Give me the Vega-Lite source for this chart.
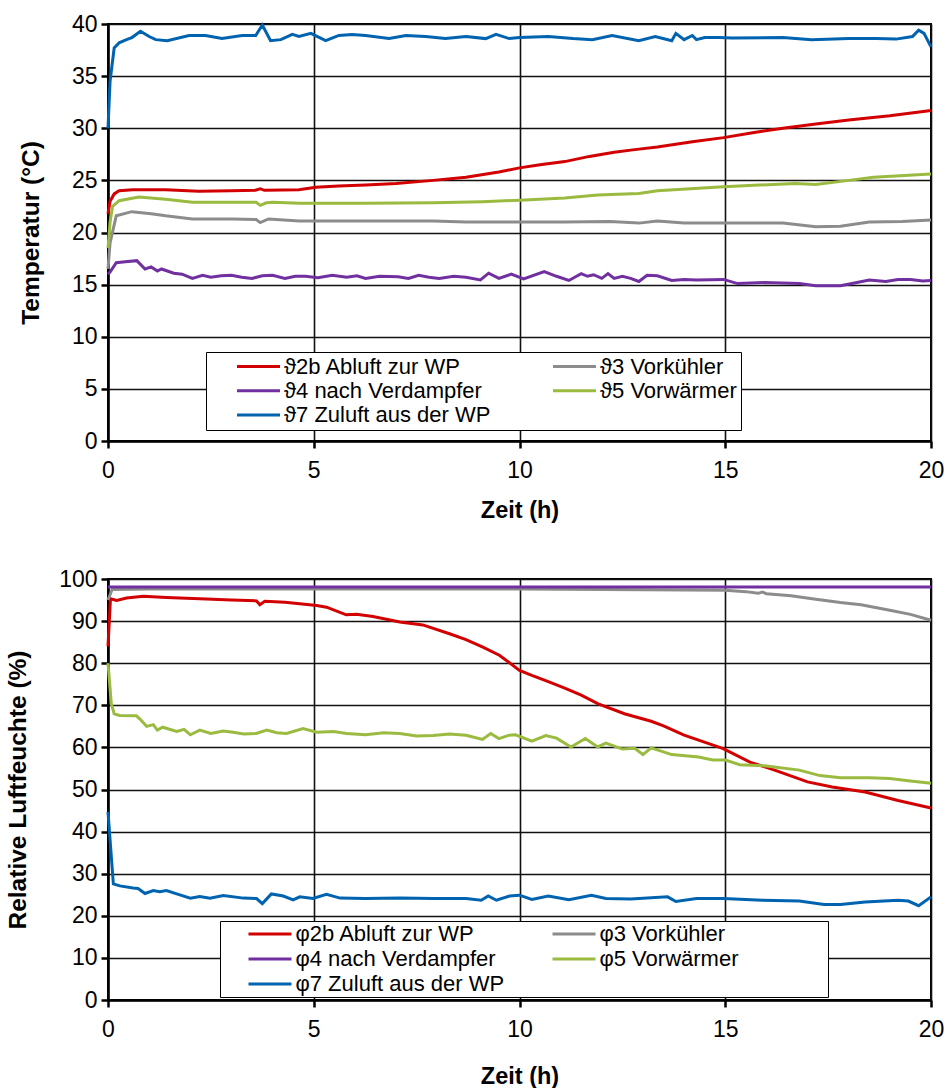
{
  "$schema": "https://vega.github.io/schema/vega-lite/v6.json",
  "background": "white",
  "padding": {"left": 4, "top": 12, "right": 10, "bottom": 5},
  "spacing": 44,
  "config": {
    "font": "Liberation Sans",
    "view": {"stroke": "black", "strokeWidth": 2},
    "axis": {
      "grid": true, "gridColor": "#111111", "gridWidth": 1.6, "gridOpacity": 1,
      "domainColor": "black", "domainWidth": 2.5, "tickColor": "black", "tickWidth": 2.5, "tickSize": 7,
      "labelFont": "Liberation Sans", "labelFontSize": 23, "labelColor": "black", "labelFlush": false,
      "titleFont": "Liberation Sans", "titleFontSize": 23.5, "titleFontWeight": "bold", "titleColor": "black"
    },
    "axisX": {"labelPadding": 11, "titlePadding": 16},
    "axisY": {"labelPadding": 4, "titlePadding": 28, "titleFontSize": 24.5},
    "legend": {
      "orient": "none", "columns": 2, "direction": "horizontal", "symbolType": "stroke", "symbolSize": 1849, "symbolStrokeWidth": 3,
      "clipHeight": 22, "labelFont": "Liberation Sans", "labelFontSize": 22, "labelColor": "black",
      "labelOffset": 2.5, "labelLimit": 500, "gridAlign": "all", "strokeColor": "black", "fillColor": "white",
      "title": null
    }
  },
  "datasets": {
    "namesT": [
      {"s": "2b", "name": "ϑ2b Abluft zur WP"},
      {"s": "3", "name": "ϑ3 Vorkühler"},
      {"s": "4", "name": "ϑ4 nach Verdampfer"},
      {"s": "5", "name": "ϑ5 Vorwärmer"},
      {"s": "7", "name": "ϑ7 Zuluft aus der WP"}
    ],
    "namesH": [
      {"s": "2b", "name": "φ2b Abluft zur WP"},
      {"s": "3", "name": "φ3 Vorkühler"},
      {"s": "4", "name": "φ4 nach Verdampfer"},
      {"s": "5", "name": "φ5 Vorwärmer"},
      {"s": "7", "name": "φ7 Zuluft aus der WP"}
    ],
    "temp": [
      {"s":"2b","t":0,"v":21.8},{"s":"2b","t":0.05,"v":23.0},{"s":"2b","t":0.15,"v":23.7},{"s":"2b","t":0.27,"v":24.0},{"s":"2b","t":0.6,"v":24.1},{"s":"2b","t":1.4,"v":24.1},{"s":"2b","t":2.2,"v":23.95},{"s":"2b","t":3.0,"v":24.0},{"s":"2b","t":3.58,"v":24.05},{"s":"2b","t":3.7,"v":24.2},{"s":"2b","t":3.8,"v":24.05},{"s":"2b","t":4.64,"v":24.1},{"s":"2b","t":5.05,"v":24.35},{"s":"2b","t":5.6,"v":24.45},{"s":"2b","t":6.26,"v":24.55},{"s":"2b","t":7.0,"v":24.7},{"s":"2b","t":7.9,"v":25.0},{"s":"2b","t":8.7,"v":25.3},{"s":"2b","t":9.5,"v":25.8},{"s":"2b","t":10.0,"v":26.2},{"s":"2b","t":10.5,"v":26.5},{"s":"2b","t":11.1,"v":26.8},{"s":"2b","t":11.7,"v":27.3},{"s":"2b","t":12.3,"v":27.7},{"s":"2b","t":12.8,"v":27.95},{"s":"2b","t":13.35,"v":28.2},{"s":"2b","t":14.2,"v":28.7},{"s":"2b","t":14.96,"v":29.1},{"s":"2b","t":15.7,"v":29.6},{"s":"2b","t":16.4,"v":30.0},{"s":"2b","t":17.2,"v":30.4},{"s":"2b","t":18.0,"v":30.8},{"s":"2b","t":19.0,"v":31.2},{"s":"2b","t":20,"v":31.7},
      {"s":"3","t":0,"v":16.5},{"s":"3","t":0.05,"v":19.0},{"s":"3","t":0.2,"v":21.6},{"s":"3","t":0.58,"v":22.0},{"s":"3","t":1.05,"v":21.8},{"s":"3","t":1.4,"v":21.6},{"s":"3","t":2.05,"v":21.3},{"s":"3","t":3.0,"v":21.3},{"s":"3","t":3.6,"v":21.25},{"s":"3","t":3.7,"v":20.95},{"s":"3","t":3.9,"v":21.3},{"s":"3","t":4.65,"v":21.1},{"s":"3","t":6.26,"v":21.1},{"s":"3","t":7.9,"v":21.1},{"s":"3","t":8.7,"v":21.0},{"s":"3","t":10,"v":21.0},{"s":"3","t":11.1,"v":21.0},{"s":"3","t":12.2,"v":21.05},{"s":"3","t":12.9,"v":20.9},{"s":"3","t":13.35,"v":21.1},{"s":"3","t":14.0,"v":20.9},{"s":"3","t":15.0,"v":20.9},{"s":"3","t":16.4,"v":20.9},{"s":"3","t":17.2,"v":20.55},{"s":"3","t":17.8,"v":20.6},{"s":"3","t":18.5,"v":21.0},{"s":"3","t":19.3,"v":21.05},{"s":"3","t":20,"v":21.2},
      {"s":"4","t":0,"v":16.0},{"s":"4","t":0.05,"v":16.2},{"s":"4","t":0.2,"v":17.1},{"s":"4","t":0.42,"v":17.2},{"s":"4","t":0.7,"v":17.3},{"s":"4","t":0.9,"v":16.5},{"s":"4","t":1.05,"v":16.7},{"s":"4","t":1.2,"v":16.3},{"s":"4","t":1.3,"v":16.5},{"s":"4","t":1.6,"v":16.1},{"s":"4","t":1.8,"v":16.0},{"s":"4","t":2.05,"v":15.6},{"s":"4","t":2.3,"v":15.9},{"s":"4","t":2.5,"v":15.7},{"s":"4","t":2.75,"v":15.85},{"s":"4","t":3.0,"v":15.9},{"s":"4","t":3.25,"v":15.7},{"s":"4","t":3.5,"v":15.6},{"s":"4","t":3.75,"v":15.85},{"s":"4","t":4.0,"v":15.9},{"s":"4","t":4.3,"v":15.6},{"s":"4","t":4.55,"v":15.8},{"s":"4","t":4.8,"v":15.8},{"s":"4","t":5.1,"v":15.65},{"s":"4","t":5.45,"v":15.9},{"s":"4","t":5.8,"v":15.7},{"s":"4","t":6.05,"v":15.85},{"s":"4","t":6.26,"v":15.6},{"s":"4","t":6.6,"v":15.8},{"s":"4","t":7.05,"v":15.75},{"s":"4","t":7.3,"v":15.6},{"s":"4","t":7.55,"v":15.9},{"s":"4","t":7.8,"v":15.7},{"s":"4","t":8.05,"v":15.6},{"s":"4","t":8.4,"v":15.8},{"s":"4","t":8.7,"v":15.7},{"s":"4","t":9.05,"v":15.45},{"s":"4","t":9.25,"v":16.1},{"s":"4","t":9.5,"v":15.6},{"s":"4","t":9.8,"v":16.0},{"s":"4","t":10.1,"v":15.55},{"s":"4","t":10.6,"v":16.25},{"s":"4","t":10.9,"v":15.8},{"s":"4","t":11.2,"v":15.4},{"s":"4","t":11.5,"v":16.05},{"s":"4","t":11.65,"v":15.8},{"s":"4","t":11.8,"v":15.95},{"s":"4","t":12.0,"v":15.6},{"s":"4","t":12.15,"v":16.05},{"s":"4","t":12.3,"v":15.6},{"s":"4","t":12.5,"v":15.8},{"s":"4","t":12.7,"v":15.6},{"s":"4","t":12.9,"v":15.3},{"s":"4","t":13.1,"v":15.9},{"s":"4","t":13.35,"v":15.85},{"s":"4","t":13.7,"v":15.4},{"s":"4","t":14.0,"v":15.5},{"s":"4","t":14.3,"v":15.45},{"s":"4","t":14.96,"v":15.5},{"s":"4","t":15.3,"v":15.1},{"s":"4","t":15.95,"v":15.2},{"s":"4","t":16.8,"v":15.1},{"s":"4","t":17.2,"v":14.9},{"s":"4","t":17.8,"v":14.9},{"s":"4","t":18.2,"v":15.2},{"s":"4","t":18.5,"v":15.45},{"s":"4","t":18.9,"v":15.3},{"s":"4","t":19.2,"v":15.5},{"s":"4","t":19.5,"v":15.5},{"s":"4","t":19.8,"v":15.35},{"s":"4","t":20,"v":15.4},
      {"s":"5","t":0,"v":18.5},{"s":"5","t":0.05,"v":21.0},{"s":"5","t":0.11,"v":22.5},{"s":"5","t":0.27,"v":23.05},{"s":"5","t":0.75,"v":23.4},{"s":"5","t":1.4,"v":23.2},{"s":"5","t":2.05,"v":22.9},{"s":"5","t":3.6,"v":22.9},{"s":"5","t":3.7,"v":22.6},{"s":"5","t":3.85,"v":22.85},{"s":"5","t":4.0,"v":22.9},{"s":"5","t":4.65,"v":22.8},{"s":"5","t":6.26,"v":22.8},{"s":"5","t":7.9,"v":22.85},{"s":"5","t":9.1,"v":22.95},{"s":"5","t":10.0,"v":23.1},{"s":"5","t":11.1,"v":23.3},{"s":"5","t":11.9,"v":23.6},{"s":"5","t":12.9,"v":23.75},{"s":"5","t":13.35,"v":24.0},{"s":"5","t":14.96,"v":24.4},{"s":"5","t":16.7,"v":24.7},{"s":"5","t":17.2,"v":24.6},{"s":"5","t":18.0,"v":25.0},{"s":"5","t":18.6,"v":25.3},{"s":"5","t":20,"v":25.6},
      {"s":"7","t":0,"v":30.0},{"s":"7","t":0.05,"v":34.5},{"s":"7","t":0.15,"v":37.7},{"s":"7","t":0.27,"v":38.2},{"s":"7","t":0.45,"v":38.5},{"s":"7","t":0.58,"v":38.7},{"s":"7","t":0.79,"v":39.3},{"s":"7","t":1.0,"v":38.8},{"s":"7","t":1.16,"v":38.5},{"s":"7","t":1.44,"v":38.4},{"s":"7","t":1.97,"v":38.9},{"s":"7","t":2.37,"v":38.9},{"s":"7","t":2.77,"v":38.6},{"s":"7","t":3.26,"v":38.9},{"s":"7","t":3.59,"v":38.9},{"s":"7","t":3.75,"v":39.9},{"s":"7","t":3.95,"v":38.4},{"s":"7","t":4.2,"v":38.5},{"s":"7","t":4.48,"v":39.0},{"s":"7","t":4.64,"v":38.8},{"s":"7","t":4.93,"v":39.1},{"s":"7","t":5.29,"v":38.4},{"s":"7","t":5.61,"v":38.9},{"s":"7","t":5.93,"v":39.0},{"s":"7","t":6.26,"v":38.9},{"s":"7","t":6.83,"v":38.6},{"s":"7","t":7.24,"v":38.9},{"s":"7","t":7.72,"v":38.8},{"s":"7","t":8.2,"v":38.6},{"s":"7","t":8.7,"v":38.8},{"s":"7","t":9.18,"v":38.6},{"s":"7","t":9.43,"v":39.0},{"s":"7","t":9.75,"v":38.6},{"s":"7","t":10.0,"v":38.7},{"s":"7","t":10.7,"v":38.8},{"s":"7","t":11.3,"v":38.6},{"s":"7","t":11.77,"v":38.5},{"s":"7","t":12.25,"v":38.9},{"s":"7","t":12.9,"v":38.4},{"s":"7","t":13.3,"v":38.8},{"s":"7","t":13.7,"v":38.4},{"s":"7","t":13.8,"v":39.1},{"s":"7","t":14.0,"v":38.5},{"s":"7","t":14.2,"v":38.9},{"s":"7","t":14.3,"v":38.5},{"s":"7","t":14.5,"v":38.7},{"s":"7","t":14.85,"v":38.7},{"s":"7","t":15.17,"v":38.65},{"s":"7","t":16.4,"v":38.7},{"s":"7","t":17.1,"v":38.5},{"s":"7","t":18.0,"v":38.6},{"s":"7","t":18.67,"v":38.6},{"s":"7","t":19.15,"v":38.55},{"s":"7","t":19.55,"v":38.8},{"s":"7","t":19.7,"v":39.4},{"s":"7","t":19.83,"v":39.1},{"s":"7","t":20,"v":37.8}
    ],
    "hum": [
      {"s":"2b","t":0,"v":84},{"s":"2b","t":0.06,"v":95.3},{"s":"2b","t":0.21,"v":94.9},{"s":"2b","t":0.45,"v":95.5},{"s":"2b","t":0.86,"v":95.9},{"s":"2b","t":1.42,"v":95.6},{"s":"2b","t":2.23,"v":95.3},{"s":"2b","t":3.0,"v":95.0},{"s":"2b","t":3.61,"v":94.8},{"s":"2b","t":3.69,"v":93.9},{"s":"2b","t":3.81,"v":94.7},{"s":"2b","t":4.3,"v":94.5},{"s":"2b","t":4.66,"v":94.1},{"s":"2b","t":5.07,"v":93.7},{"s":"2b","t":5.31,"v":93.3},{"s":"2b","t":5.79,"v":91.5},{"s":"2b","t":6.04,"v":91.6},{"s":"2b","t":6.44,"v":91.1},{"s":"2b","t":7.09,"v":89.8},{"s":"2b","t":7.65,"v":89.1},{"s":"2b","t":8.3,"v":87.0},{"s":"2b","t":8.7,"v":85.6},{"s":"2b","t":9.11,"v":83.8},{"s":"2b","t":9.51,"v":81.9},{"s":"2b","t":10.0,"v":78.3},{"s":"2b","t":10.3,"v":77.1},{"s":"2b","t":10.7,"v":75.6},{"s":"2b","t":11.1,"v":74.1},{"s":"2b","t":11.5,"v":72.4},{"s":"2b","t":11.9,"v":70.4},{"s":"2b","t":12.55,"v":68.0},{"s":"2b","t":13.2,"v":66.2},{"s":"2b","t":13.5,"v":65.1},{"s":"2b","t":14.0,"v":62.9},{"s":"2b","t":14.6,"v":60.9},{"s":"2b","t":14.95,"v":59.7},{"s":"2b","t":15.6,"v":56.5},{"s":"2b","t":16.2,"v":54.6},{"s":"2b","t":17.0,"v":51.8},{"s":"2b","t":17.6,"v":50.6},{"s":"2b","t":18.4,"v":49.4},{"s":"2b","t":19.2,"v":47.4},{"s":"2b","t":20,"v":45.6},
      {"s":"3","t":0,"v":95.0},{"s":"3","t":0.1,"v":97.5},{"s":"3","t":1,"v":97.6},{"s":"3","t":5,"v":97.6},{"s":"3","t":10,"v":97.6},{"s":"3","t":15.0,"v":97.3},{"s":"3","t":15.5,"v":97.0},{"s":"3","t":15.8,"v":96.6},{"s":"3","t":15.9,"v":96.9},{"s":"3","t":16.0,"v":96.5},{"s":"3","t":16.6,"v":96.0},{"s":"3","t":17.2,"v":95.2},{"s":"3","t":17.8,"v":94.4},{"s":"3","t":18.3,"v":93.9},{"s":"3","t":19.0,"v":92.6},{"s":"3","t":19.5,"v":91.6},{"s":"3","t":20,"v":90.2},
      {"s":"4","t":0,"v":98.1},{"s":"4","t":10,"v":98.1},{"s":"4","t":20,"v":98.1},
      {"s":"5","t":0,"v":80.0},{"s":"5","t":0.08,"v":70.4},{"s":"5","t":0.15,"v":68.0},{"s":"5","t":0.28,"v":67.6},{"s":"5","t":0.69,"v":67.5},{"s":"5","t":0.77,"v":66.8},{"s":"5","t":0.94,"v":65.0},{"s":"5","t":1.1,"v":65.4},{"s":"5","t":1.2,"v":64.1},{"s":"5","t":1.33,"v":64.8},{"s":"5","t":1.67,"v":63.8},{"s":"5","t":1.85,"v":64.3},{"s":"5","t":2.0,"v":63.0},{"s":"5","t":2.23,"v":64.1},{"s":"5","t":2.5,"v":63.3},{"s":"5","t":2.8,"v":63.9},{"s":"5","t":3.04,"v":63.6},{"s":"5","t":3.3,"v":63.2},{"s":"5","t":3.6,"v":63.3},{"s":"5","t":3.86,"v":64.1},{"s":"5","t":4.1,"v":63.5},{"s":"5","t":4.34,"v":63.3},{"s":"5","t":4.74,"v":64.5},{"s":"5","t":5.07,"v":63.6},{"s":"5","t":5.48,"v":63.8},{"s":"5","t":5.8,"v":63.3},{"s":"5","t":6.26,"v":63.0},{"s":"5","t":6.7,"v":63.5},{"s":"5","t":7.09,"v":63.3},{"s":"5","t":7.5,"v":62.7},{"s":"5","t":7.9,"v":62.8},{"s":"5","t":8.3,"v":63.2},{"s":"5","t":8.7,"v":62.9},{"s":"5","t":9.1,"v":61.9},{"s":"5","t":9.3,"v":63.3},{"s":"5","t":9.5,"v":62.1},{"s":"5","t":9.75,"v":62.9},{"s":"5","t":9.9,"v":63.0},{"s":"5","t":10.3,"v":61.5},{"s":"5","t":10.64,"v":62.8},{"s":"5","t":10.9,"v":62.2},{"s":"5","t":11.25,"v":60.1},{"s":"5","t":11.6,"v":62.1},{"s":"5","t":11.9,"v":60.1},{"s":"5","t":12.1,"v":61.0},{"s":"5","t":12.5,"v":59.6},{"s":"5","t":12.8,"v":59.8},{"s":"5","t":13.0,"v":58.3},{"s":"5","t":13.2,"v":59.9},{"s":"5","t":13.7,"v":58.3},{"s":"5","t":14.35,"v":57.7},{"s":"5","t":14.7,"v":57.0},{"s":"5","t":15.0,"v":57.0},{"s":"5","t":15.35,"v":55.9},{"s":"5","t":16.0,"v":55.6},{"s":"5","t":16.8,"v":54.6},{"s":"5","t":17.3,"v":53.3},{"s":"5","t":17.8,"v":52.8},{"s":"5","t":18.5,"v":52.8},{"s":"5","t":19.0,"v":52.6},{"s":"5","t":19.5,"v":52.0},{"s":"5","t":20,"v":51.5},
      {"s":"7","t":0,"v":44.7},{"s":"7","t":0.09,"v":32.8},{"s":"7","t":0.13,"v":27.6},{"s":"7","t":0.29,"v":27.1},{"s":"7","t":0.61,"v":26.6},{"s":"7","t":0.73,"v":26.5},{"s":"7","t":0.9,"v":25.3},{"s":"7","t":1.1,"v":26.0},{"s":"7","t":1.26,"v":25.7},{"s":"7","t":1.42,"v":26.0},{"s":"7","t":1.67,"v":25.2},{"s":"7","t":2.0,"v":24.2},{"s":"7","t":2.23,"v":24.6},{"s":"7","t":2.48,"v":24.2},{"s":"7","t":2.8,"v":24.8},{"s":"7","t":3.29,"v":24.2},{"s":"7","t":3.61,"v":24.1},{"s":"7","t":3.75,"v":22.9},{"s":"7","t":3.97,"v":25.2},{"s":"7","t":4.26,"v":24.7},{"s":"7","t":4.5,"v":23.8},{"s":"7","t":4.66,"v":24.5},{"s":"7","t":4.98,"v":24.1},{"s":"7","t":5.31,"v":25.1},{"s":"7","t":5.64,"v":24.2},{"s":"7","t":6.26,"v":24.1},{"s":"7","t":7.09,"v":24.2},{"s":"7","t":7.9,"v":24.1},{"s":"7","t":8.7,"v":24.1},{"s":"7","t":9.07,"v":23.7},{"s":"7","t":9.24,"v":24.7},{"s":"7","t":9.44,"v":23.7},{"s":"7","t":9.76,"v":24.7},{"s":"7","t":10.0,"v":24.9},{"s":"7","t":10.3,"v":23.9},{"s":"7","t":10.7,"v":24.7},{"s":"7","t":11.2,"v":23.8},{"s":"7","t":11.75,"v":24.9},{"s":"7","t":12.1,"v":24.1},{"s":"7","t":12.7,"v":24.0},{"s":"7","t":13.6,"v":24.5},{"s":"7","t":13.8,"v":23.4},{"s":"7","t":14.3,"v":24.1},{"s":"7","t":14.95,"v":24.1},{"s":"7","t":15.9,"v":23.7},{"s":"7","t":16.8,"v":23.5},{"s":"7","t":17.4,"v":22.7},{"s":"7","t":17.8,"v":22.7},{"s":"7","t":18.4,"v":23.3},{"s":"7","t":19.2,"v":23.7},{"s":"7","t":19.45,"v":23.5},{"s":"7","t":19.7,"v":22.4},{"s":"7","t":20,"v":24.5}
    ]
  },
  "resolve": {"scale": {"color": "independent"}, "legend": {"color": "independent"}},
  "vconcat": [
    {
      "width": 823,
      "height": 417,
      "data": {"name": "temp"},
      "transform": [{"lookup": "s", "from": {"data": {"name": "namesT"}, "key": "s", "fields": ["name"]}}],
      "mark": {"type": "line", "strokeWidth": 3, "interpolate": "linear"},
      "encoding": {
        "x": {"field": "t", "type": "quantitative", "title": "Zeit (h)",
              "scale": {"domain": [0, 20], "nice": false},
              "axis": {"values": [0, 5, 10, 15, 20]}},
        "y": {"field": "v", "type": "quantitative", "title": "Temperatur (°C)",
              "scale": {"domain": [0, 40], "nice": false},
              "axis": {"values": [0, 5, 10, 15, 20, 25, 30, 35, 40]}},
        "color": {"field": "name", "type": "nominal",
                  "scale": {"domain": ["ϑ2b Abluft zur WP", "ϑ3 Vorkühler", "ϑ4 nach Verdampfer", "ϑ5 Vorwärmer", "ϑ7 Zuluft aus der WP"],
                            "range": ["#D20000", "#8C8C8C", "#7030A0", "#9BBB40", "#0063AF"]},
                  "legend": {"legendX": 98, "legendY": 328, "padding": 3.5, "symbolOffset": 26, "rowPadding": 2.2, "columnPadding": 35}},
        "order": {"field": "t", "type": "quantitative"}
      }
    },
    {
      "width": 823,
      "height": 421,
      "data": {"name": "hum"},
      "transform": [{"lookup": "s", "from": {"data": {"name": "namesH"}, "key": "s", "fields": ["name"]}}],
      "mark": {"type": "line", "strokeWidth": 3, "interpolate": "linear"},
      "encoding": {
        "x": {"field": "t", "type": "quantitative", "title": "Zeit (h)",
              "scale": {"domain": [0, 20], "nice": false},
              "axis": {"values": [0, 5, 10, 15, 20], "titlePadding": 23}},
        "y": {"field": "v", "type": "quantitative", "title": "Relative Luftfeuchte (%)",
              "scale": {"domain": [0, 100], "nice": false},
              "axis": {"values": [0, 10, 20, 30, 40, 50, 60, 70, 80, 90, 100]}},
        "color": {"field": "name", "type": "nominal",
                  "scale": {"domain": ["φ2b Abluft zur WP", "φ3 Vorkühler", "φ4 nach Verdampfer", "φ5 Vorwärmer", "φ7 Zuluft aus der WP"],
                            "range": ["#D20000", "#8C8C8C", "#7030A0", "#9BBB40", "#0063AF"]},
                  "legend": {"legendX": 112, "legendY": 342, "padding": 2, "symbolOffset": 25, "rowPadding": 3, "columnPadding": 4,
                             "gridAlign": "each",
                             "encode": {"entries": {"update": {"width": {"value": 300}}}}}},
        "order": {"field": "t", "type": "quantitative"}
      }
    }
  ]
}
